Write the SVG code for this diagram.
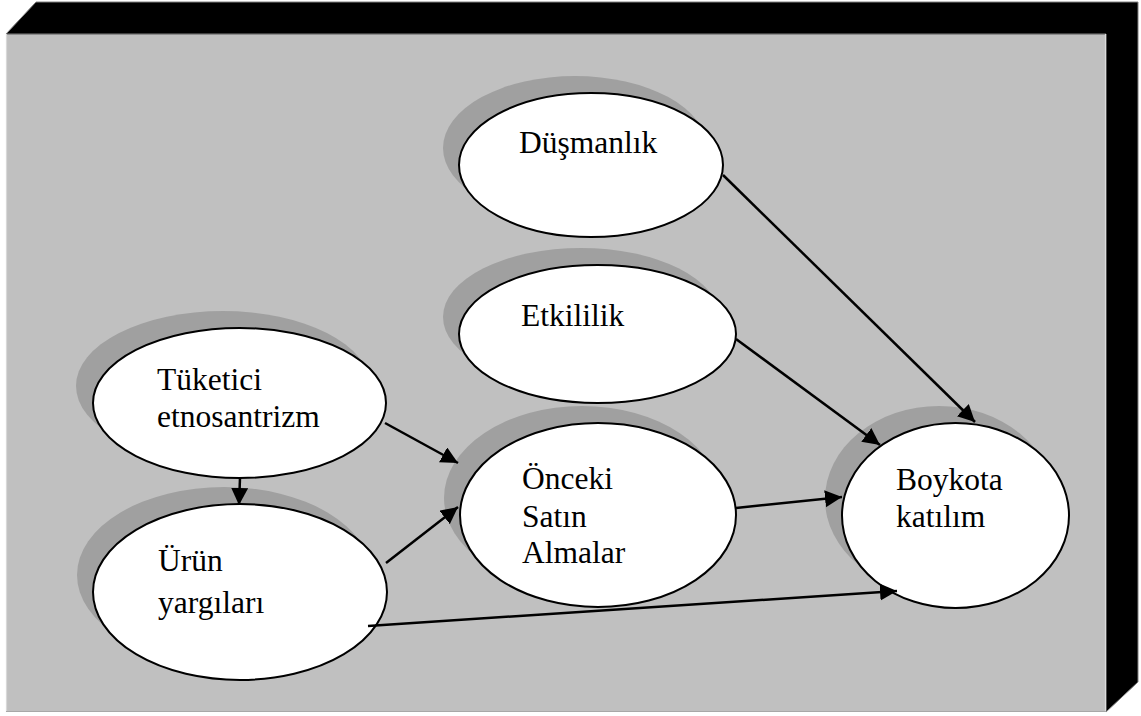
<svg xmlns="http://www.w3.org/2000/svg" width="1141" height="716" viewBox="0 0 1141 716">
  <style>
    .shadow { fill: #a0a0a0; stroke: none; }
    .node { fill: #ffffff; stroke: #000000; stroke-width: 2; }
    .label { font-family: "Liberation Serif", "Times New Roman", serif; font-size: 31.5px; fill: #000000; }
    .edge { stroke: #000000; stroke-width: 2.5; fill: none; marker-end: url(#arrow); }
  </style>
  <defs>
    <marker id="arrow" markerUnits="userSpaceOnUse" markerWidth="20" markerHeight="20" refX="17" refY="8.5" orient="auto">
      <path d="M0,0 L17,8.5 L0,17 Z" fill="#000000"/>
    </marker>
  </defs>

  <rect x="0" y="0" width="1141" height="716" fill="#ffffff"/>

  <!-- box -->
  <g id="box">
    <polygon points="6,34 36,2 1138,2 1138,682 1106,712 1106,34" fill="#000000" stroke="#808080" stroke-width="1"/>
    <rect x="6" y="34" width="1100" height="678" fill="#c0c0c0"/>
    <line x1="6" y1="34.5" x2="1106" y2="34.5" stroke="#8c8c8c" stroke-width="1.2"/>
    <line x1="6.5" y1="34" x2="6.5" y2="712" stroke="#d8d8d8" stroke-width="1.2"/>
    <line x1="1105.5" y1="34" x2="1105.5" y2="712" stroke="#dcdcdc" stroke-width="1.2"/>
    <line x1="6" y1="711.5" x2="1106" y2="711.5" stroke="#a8a8a8" stroke-width="1"/>
  </g>

  <!-- shadows -->
  <g id="shadows">
    <ellipse class="shadow" cx="575" cy="148" rx="132" ry="72"/>
    <ellipse class="shadow" cx="581" cy="317" rx="138" ry="69"/>
    <ellipse class="shadow" cx="223" cy="386" rx="147" ry="75"/>
    <ellipse class="shadow" cx="224" cy="575" rx="147" ry="88"/>
    <ellipse class="shadow" cx="582" cy="498" rx="138" ry="92"/>
    <ellipse class="shadow" cx="939" cy="499" rx="114" ry="93"/>
  </g>

  <g id="node-dusmanlik">
    <ellipse class="node" cx="591" cy="165" rx="132" ry="72"/>
    <text class="label" x="519" y="153">Düşmanlık</text>
  </g>

  <g id="node-etkililik">
    <ellipse class="node" cx="597.5" cy="334" rx="138.5" ry="69"/>
    <text class="label" x="521" y="326">Etkililik</text>
  </g>

  <g id="node-tuketici">
    <ellipse class="node" cx="239.5" cy="403" rx="146.5" ry="75"/>
    <text class="label" x="157" y="390">Tüketici</text>
    <text class="label" x="157" y="427">etnosantrizm</text>
  </g>

  <g id="node-urun">
    <ellipse class="node" cx="240" cy="592" rx="147" ry="88"/>
    <text class="label" x="158" y="571">Ürün</text>
    <text class="label" x="158" y="613">yargıları</text>
  </g>

  <g id="node-onceki">
    <ellipse class="node" cx="598" cy="515" rx="138" ry="92"/>
    <text class="label" x="522" y="489">Önceki</text>
    <text class="label" x="522" y="527">Satın</text>
    <text class="label" x="522" y="563">Almalar</text>
  </g>

  <g id="node-boykota">
    <ellipse class="node" cx="955.5" cy="515.5" rx="113.5" ry="92.5"/>
    <text class="label" x="896" y="490">Boykota</text>
    <text class="label" x="896" y="527">katılım</text>
  </g>

  <g id="connectors">
    <line class="edge" x1="723" y1="175" x2="975" y2="422"/>
    <line class="edge" x1="736" y1="339" x2="880" y2="445"/>
    <line class="edge" x1="736" y1="508" x2="842" y2="497"/>
    <line class="edge" x1="368" y1="626" x2="897" y2="591"/>
    <line class="edge" x1="385" y1="423" x2="458" y2="463"/>
    <line class="edge" x1="386" y1="563" x2="458" y2="507"/>
    <line class="edge" x1="240" y1="478" x2="239" y2="505"/>
  </g>
</svg>
